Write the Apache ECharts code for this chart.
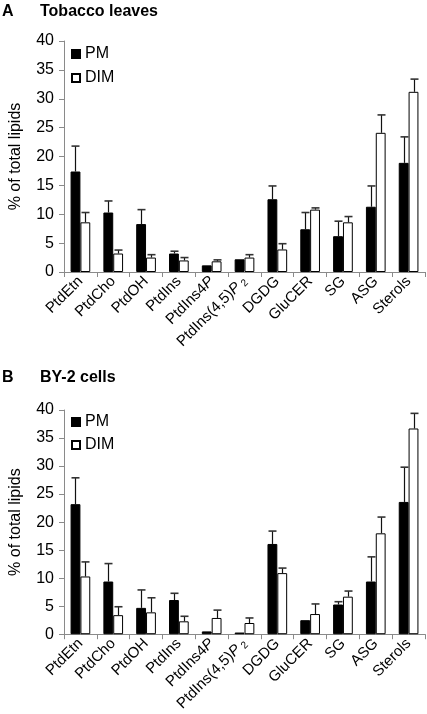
<!DOCTYPE html>
<html>
<head>
<meta charset="utf-8">
<script src="https://cdn.jsdelivr.net/npm/echarts@6/dist/echarts.min.js"></script>
<style>
html,body{margin:0;padding:0;background:#fff;}
#c{width:427px;height:714px;}
</style>
</head>
<body>
<div id="c"></div>
<script>
// ---- data ----
const categories = ['PtdEtn','PtdCho','PtdOH','PtdIns','PtdIns4P','PtdIns(4,5)P2','DGDG','GluCER','SG','ASG','Sterols'];
const yTicks = [0,5,10,15,20,25,30,35,40];

const tobaccoPM     = [17.4, 10.3, 8.3, 3.2, 1.15, 2.2, 12.6, 7.4, 6.2, 11.3, 18.9];
const tobaccoPMErr  = [4.4, 2.0, 2.5, 0.4, 0, 0, 2.3, 2.9, 2.6, 3.6, 4.5];
const tobaccoDIM    = [8.6, 3.2, 2.5, 2.0, 1.85, 2.5, 3.9, 10.8, 8.6, 24.1, 31.2];
const tobaccoDIMErr = [1.7, 0.6, 0.5, 0.5, 0.25, 0.5, 1.0, 0.3, 1.0, 3.1, 2.2];

const by2PM     = [23.2, 9.4, 4.7, 6.1, 0.5, 0.3, 16.1, 2.5, 5.3, 9.4, 23.6];
const by2PMErr  = [4.7, 3.2, 3.2, 1.2, 0, 0, 2.3, 0, 0.5, 4.4, 6.2];
const by2DIM    = [10.3, 3.4, 3.9, 2.3, 2.9, 2.0, 10.9, 3.6, 6.7, 18.0, 36.7];
const by2DIMErr = [2.6, 1.5, 2.6, 0.9, 1.4, 0.9, 0.9, 1.8, 1.0, 2.9, 2.7];

// ---- chart ----
const FONT = '"Liberation Sans", Arial, sans-serif';
const chart = echarts.init(document.getElementById('c'), null, {renderer:'canvas'});

function errRender(side){
  return function(params, api){
    const i = api.value(0), v = api.value(1), e = api.value(2);
    if (!e) return null;
    const band = api.size([1,0])[0];
    const off = side * band * 0.15;
    const p0 = api.coord([i, v]);
    const p1 = api.coord([i, v + e]);
    const x = Math.round(p0[0] + off) + 0.5;
    const cap = 4;
    return {type:'group', children:[
      {type:'line', shape:{x1:x, y1:p0[1], x2:x, y2:p1[1]}, style:{stroke:'#111', lineWidth:1.2}},
      {type:'line', shape:{x1:x-cap, y1:p1[1], x2:x+cap, y2:p1[1]}, style:{stroke:'#333', lineWidth:1.6}}
    ]};
  };
}

function labelFmt(v){
  if (v === 'PtdIns4P') return '{n|PtdIns4}{i|P}';
  if (v === 'PtdIns(4,5)P2') return '{n|PtdIns(4,5)}{i|P}{s|2}';
  return '{n|' + v + '}';
}

function xAxis(gi){
  return {
    type:'category', gridIndex:gi, data:categories,
    axisLine:{lineStyle:{color:'#8a8a8a', width:1}},
    axisTick:{show:true, interval:0, length:5, lineStyle:{color:'#8a8a8a'}},
    axisLabel:{
      interval:0, rotate:45, margin:7, color:'#000', formatter:labelFmt,
      rich:{
        n:{fontSize:15, fontFamily:FONT, color:'#000'},
        i:{fontSize:15, fontFamily:FONT, fontStyle:'italic', color:'#000'},
        s:{fontSize:10, fontFamily:FONT, color:'#000', verticalAlign:'bottom', padding:[6,0,0,3]}
      }
    },
    splitLine:{show:false}
  };
}
function yAxis(gi){
  return {
    type:'value', gridIndex:gi, min:0, max:40, interval:5,
    name:'% of total lipids', nameLocation:'middle', nameGap:40, nameRotate:90,
    nameTextStyle:{fontSize:16, fontFamily:FONT, color:'#000'},
    axisLine:{show:true, lineStyle:{color:'#8a8a8a', width:1}},
    axisTick:{show:true, length:5, lineStyle:{color:'#8a8a8a'}},
    axisLabel:{fontSize:16, fontFamily:FONT, color:'#000', margin:10,
      formatter:function(v){ return yTicks.indexOf(v) >= 0 ? String(v) : ''; }},
    splitLine:{show:false}
  };
}

function barSeries(name, gi, data, isPM){
  return {
    name:name, type:'bar', xAxisIndex:gi, yAxisIndex:gi, data:data,
    barGap:'0%', barCategoryGap:'40%',
    itemStyle: isPM ? {color:'#000', borderColor:'#000', borderWidth:1}
                    : {color:'#fff', borderColor:'#000', borderWidth:1},
    emphasis:{disabled:true}, animation:false
  };
}
function errSeries(gi, vals, errs, side){
  return {
    name:'err', type:'custom', xAxisIndex:gi, yAxisIndex:gi,
    renderItem:errRender(side),
    data:categories.map((c,i)=>[i, vals[i], errs[i]]),
    encode:{x:0, y:1}, z:5, silent:true, animation:false
  };
}

const titleStyle = {fontSize:16, fontWeight:'bold', fontFamily:FONT, color:'#000'};
const legendCommon = {
  data:['PM','DIM'], orient:'vertical', left:71, padding:0,
  itemWidth:8, itemHeight:8, itemGap:8, icon:'rect',
  textStyle:{fontSize:16, fontFamily:FONT, color:'#000'},
  selectedMode:false
};

const option = {
  animation:false,
  backgroundColor:'#fff',
  title:[
    {text:'A', left:2, top:4, padding:0, textStyle:titleStyle},
    {text:'Tobacco leaves', left:40, top:4, padding:0, textStyle:titleStyle},
    {text:'B', left:2, top:370, padding:0, textStyle:titleStyle},
    {text:'BY-2 cells', left:40, top:370, padding:0, textStyle:titleStyle}
  ],
  legend:[
    Object.assign({}, legendCommon, {top:46}),
    Object.assign({}, legendCommon, {top:414, itemGap:7})
  ],
  grid:[
    {left:61, right:2, top:41, height:231, containLabel:false},
    {left:61, right:2, top:410, height:230, containLabel:false}
  ],
  xAxis:[xAxis(0), xAxis(1)],
  yAxis:[yAxis(0), yAxis(1)],
  series:[
    barSeries('PM', 0, tobaccoPM, true),
    barSeries('DIM', 0, tobaccoDIM, false),
    errSeries(0, tobaccoPM, tobaccoPMErr, -1),
    errSeries(0, tobaccoDIM, tobaccoDIMErr, 1),
    barSeries('PM', 1, by2PM, true),
    barSeries('DIM', 1, by2DIM, false),
    errSeries(1, by2PM, by2PMErr, -1),
    errSeries(1, by2DIM, by2DIMErr, 1)
  ]
};
chart.setOption(option);
</script>
</body>
</html>
